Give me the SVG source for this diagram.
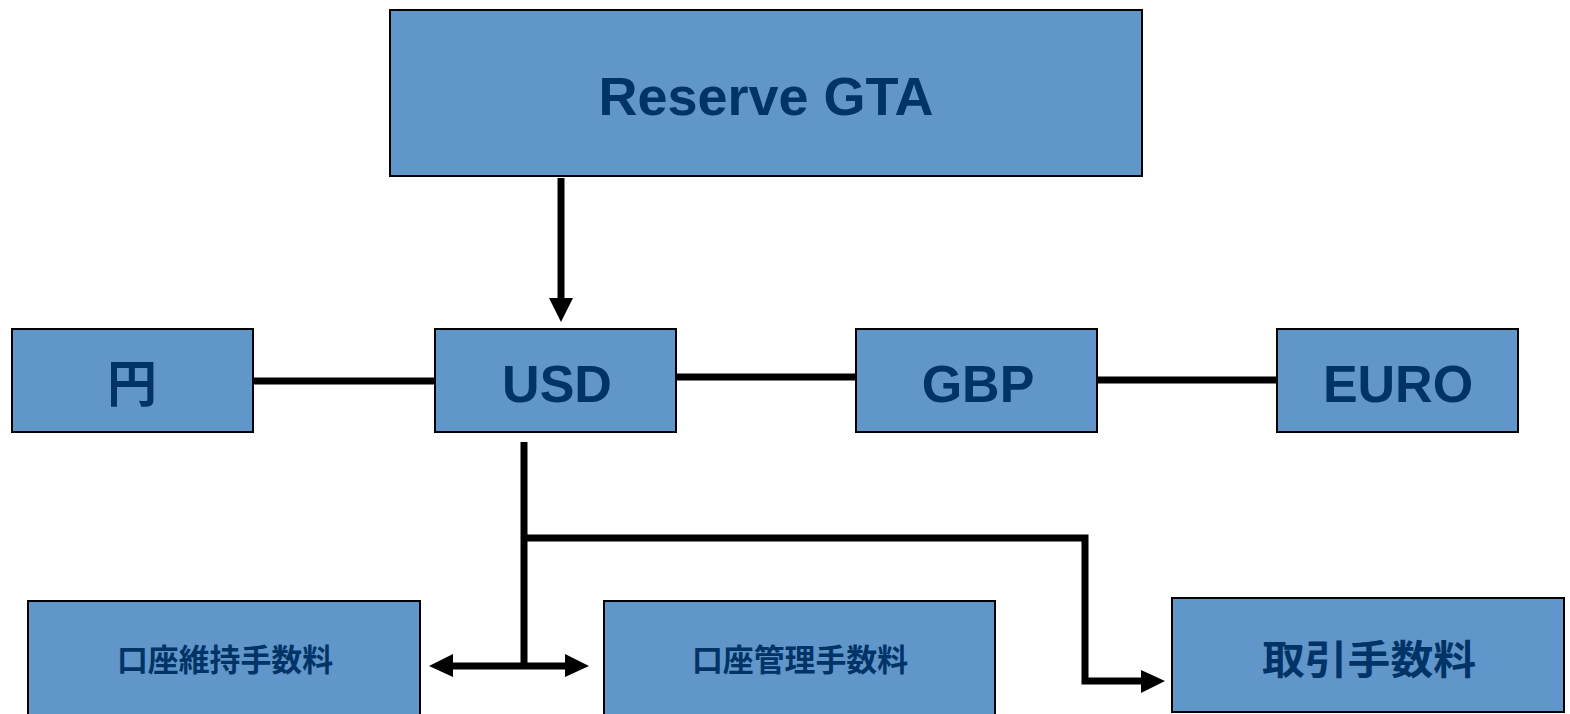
<svg xmlns="http://www.w3.org/2000/svg" width="1570" height="714" viewBox="0 0 1570 714">
<style>
.box{fill:#6096C9;stroke:#000;stroke-width:2}
.t{font-family:"Liberation Sans",Arial,"Noto Sans CJK JP",sans-serif;font-weight:bold;fill:#003366;text-anchor:middle}
.j{font-family:"Noto Sans CJK JP","Liberation Sans",sans-serif;font-weight:bold;fill:#003366;text-anchor:middle}
.ln{stroke:#000;stroke-width:7;fill:none}
</style>
<rect width="1570" height="714" fill="#fff"/>
<g id="connectors">
<line class="ln" x1="561" y1="178" x2="561" y2="300"/>
<polygon points="549,298 573,298 561,322"/>
<line class="ln" x1="253" y1="381" x2="435" y2="381"/>
<line class="ln" x1="676" y1="377" x2="855" y2="377"/>
<line class="ln" x1="1097" y1="380" x2="1277" y2="380"/>
<line class="ln" x1="524" y1="442" x2="524" y2="669"/>
<line class="ln" x1="451" y1="666" x2="567" y2="666"/>
<polygon points="429,666 453,654 453,677"/>
<polygon points="589,666 565,654 565,677"/>
<polyline class="ln" points="524,538 1085,538 1085,681 1143,681"/>
<polygon points="1141,670 1165,681 1141,693"/>
</g>
<g id="reserve">
<rect class="box" x="390" y="10" width="752" height="166"/>
<text class="t" x="766" y="115" font-size="54">Reserve GTA</text>
</g>
<g id="yen">
<rect class="box" x="12" y="329" width="241" height="103"/>
<text class="j" x="132" y="402" font-size="50">円</text>
</g>
<g id="usd">
<rect class="box" x="435" y="329" width="241" height="103"/>
<text class="t" x="557" y="402" font-size="52">USD</text>
</g>
<g id="gbp">
<rect class="box" x="856" y="329" width="241" height="103"/>
<text class="t" x="978" y="402" font-size="52">GBP</text>
</g>
<g id="euro">
<rect class="box" x="1277" y="329" width="241" height="103"/>
<text class="t" x="1398" y="402" font-size="52">EURO</text>
</g>
<g id="account-maintenance">
<rect class="box" x="28" y="601" width="392" height="120"/>
<text class="j" x="225" y="671" font-size="31" textLength="216" lengthAdjust="spacingAndGlyphs">口座維持手数料</text>
</g>
<g id="account-management">
<rect class="box" x="604" y="601" width="391" height="120"/>
<text class="j" x="800" y="671" font-size="31" textLength="216" lengthAdjust="spacingAndGlyphs">口座管理手数料</text>
</g>
<g id="transaction">
<rect class="box" x="1172" y="598" width="392" height="114"/>
<text class="j" x="1369" y="674" font-size="40" textLength="214" lengthAdjust="spacingAndGlyphs">取引手数料</text>
</g>
</svg>
